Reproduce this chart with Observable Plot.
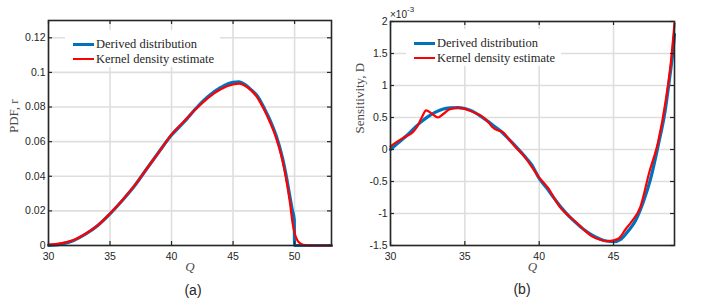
<!DOCTYPE html>
<html>
<head>
<meta charset="utf-8">
<script src="https://cdn.jsdelivr.net/npm/d3@7"></script>
<script src="https://cdn.jsdelivr.net/npm/@observablehq/plot@0.6"></script>
<style>
  body { margin: 0; background: #fff; }
  #wrap { position: relative; width: 708px; height: 302px; overflow: hidden; background: #fff; }
  .panel { position: absolute; top: 0; }
  .legend { position: absolute; background: #fff; font-family: "Liberation Serif", "Times New Roman", serif; font-size: 12.5px; color: #262626; }
  .legend .row { position: absolute; left: 0; height: 14px; white-space: nowrap; }
  .legend .sw { position: absolute; left: 8px; width: 21px; }
  .legend .lab { position: absolute; left: 31px; top: -8px; line-height: 16px; }
  .cap { position: absolute; font-family: "Liberation Sans", Arial, sans-serif; font-size: 14px; color: #262626; transform: translate(-50%, -50%); }
  .expo { position: absolute; font-family: "Liberation Sans", Arial, sans-serif; font-size: 10px; color: #262626; }
</style>
</head>
<body>
<div id="wrap"></div>
<script>
// ---------- data: panel (a) PDF ----------
const pdfXTicks = [30, 35, 40, 45, 50];
const pdfYTicks = [0, 0.02, 0.04, 0.06, 0.08, 0.1, 0.12];
const pdfYTickLabels = ["0", "0.02", "0.04", "0.06", "0.08", "0.1", "0.12"];

const pdfDerivedQ = [30, 31, 32, 33, 34, 35, 36, 37, 38, 39, 40, 41, 42, 43, 44, 45, 45.5, 46, 46.5, 47, 47.5, 48, 48.5, 49, 49.3, 49.6, 49.8, 49.97, 50, 53];
const pdfDerivedV = [0, 0.0008, 0.0028, 0.0065, 0.0116, 0.0183, 0.026, 0.0345, 0.0445, 0.0543, 0.0638, 0.0712, 0.0793, 0.0862, 0.0913, 0.0943, 0.0945, 0.0928, 0.0898, 0.0862, 0.0797, 0.0725, 0.0635, 0.051, 0.041, 0.029, 0.021, 0.015, 0, 0];

const pdfKdeQ = [30, 31, 32, 33, 34, 35, 36, 37, 38, 39, 40, 41, 42, 43, 44, 45, 45.5, 46, 46.5, 47, 47.5, 48, 48.5, 49, 49.3, 49.6, 49.85, 50, 50.2, 50.5, 50.9, 51.5, 53];
const pdfKdeV = [0.0005, 0.0012, 0.003, 0.0068, 0.0116, 0.0185, 0.0262, 0.0347, 0.0445, 0.0542, 0.0642, 0.0716, 0.079, 0.0855, 0.0903, 0.093, 0.0935, 0.0922, 0.0895, 0.0852, 0.0788, 0.0712, 0.0622, 0.0495, 0.039, 0.026, 0.0125, 0.0072, 0.0033, 0.0011, 0.0002, 0, 0];

// ---------- data: panel (b) Sensitivity (x 1e-3) ----------
const senXTicks = [30, 35, 40, 45];
const senYTicks = [-1.5, -1, -0.5, 0, 0.5, 1, 1.5, 2];
const senYTickLabels = ["-1.5", "-1", "-0.5", "0", "0.5", "1", "1.5", "2"];

const senDerivedQ = [30, 30.5, 31, 31.5, 32, 32.5, 33, 33.5, 34, 34.5, 35, 35.5, 36, 36.5, 37, 37.5, 38, 38.5, 39, 39.5, 40, 40.5, 41, 41.5, 42, 42.5, 43, 43.5, 44, 44.5, 45, 45.5, 46, 46.5, 47, 47.5, 48, 48.5, 48.75, 49, 49.1];
const senDerivedV = [0, 0.1, 0.2, 0.31, 0.42, 0.51, 0.58, 0.63, 0.65, 0.655, 0.64, 0.6, 0.53, 0.45, 0.36, 0.27, 0.15, 0.03, -0.1, -0.24, -0.45, -0.6, -0.76, -0.91, -1.04, -1.15, -1.25, -1.33, -1.39, -1.43, -1.44, -1.4, -1.27, -1.1, -0.82, -0.45, 0.06, 0.65, 1.08, 1.55, 1.8];

const senKdeQ = [30, 30.5, 31, 31.5, 31.8, 32.1, 32.4, 32.75, 33.2, 33.55, 34, 34.6, 35.3, 35.8, 36.2, 36.6, 36.9, 37.2, 37.5, 37.9, 38.4, 38.9, 39.5, 40, 40.3, 40.6, 41, 41.4, 42, 42.5, 43, 43.5, 44.1, 44.6, 45, 45.4, 45.8, 46.2, 46.8, 47.4, 48, 48.5, 48.85, 49.1];
const senKdeV = [0.05, 0.13, 0.2, 0.27, 0.36, 0.5, 0.61, 0.565, 0.5, 0.555, 0.63, 0.65, 0.61, 0.56, 0.51, 0.42, 0.34, 0.3, 0.28, 0.18, 0.04, -0.08, -0.27, -0.44, -0.52, -0.6, -0.76, -0.9, -1.04, -1.14, -1.25, -1.35, -1.41, -1.43, -1.42, -1.38, -1.25, -1.13, -0.9, -0.36, 0.12, 0.75, 1.35, 1.97];

const seriesNames = ["Derived distribution", "Kernel density estimate"];
const seriesColors = ["#0072BD", "#FF0000"];

// ---------- helpers ----------
const toRows = (qs, vs) => qs.map((q, i) => ({q, v: vs[i]}));
const SANS = '"Liberation Sans", Arial, sans-serif';
const SERIF = '"Liberation Serif", "Times New Roman", serif';
const INK = "#262626";

function panel({width, height, ml, mr, mt, mb, xDomain, yDomain, xTicks, yTicks, yLabels, derived, kde, yLabel, yLabelDx}) {
  const fh = height - mt - mb;
  const fw = width - ml - mr;
  const tick = 4;
  return Plot.plot({
    width, height,
    marginLeft: ml, marginRight: mr, marginTop: mt, marginBottom: mb,
    style: {color: INK, background: "transparent", overflow: "visible"},
    x: {domain: xDomain},
    y: {domain: yDomain},
    marks: [
      Plot.gridX(xTicks, {stroke: "#dedede", strokeOpacity: 1, strokeWidth: 1.6}),
      Plot.gridY(yTicks, {stroke: "#dedede", strokeOpacity: 1, strokeWidth: 1.6}),
      Plot.line(derived, {x: "q", y: "v", stroke: seriesColors[0], strokeWidth: 3.2, curve: "monotone-x"}),
      Plot.line(kde, {x: "q", y: "v", stroke: seriesColors[1], strokeWidth: 2.2, curve: "monotone-x"}),
      // inward ticks on all four sides
      Plot.tickX(xTicks, {x: d => d, insetTop: fh - tick, stroke: INK, strokeWidth: 1.2}),
      Plot.tickX(xTicks, {x: d => d, insetBottom: fh - tick, stroke: INK, strokeWidth: 1.2}),
      Plot.tickY(yTicks, {y: d => d, insetRight: fw - tick, stroke: INK, strokeWidth: 1.2}),
      Plot.tickY(yTicks, {y: d => d, insetLeft: fw - tick, stroke: INK, strokeWidth: 1.2}),
      Plot.frame({stroke: INK, strokeWidth: 1.6}),
      Plot.axisX({ticks: xTicks, tickSize: 0, tickPadding: 7, fontSize: 10.5, fontFamily: SANS, label: null, tickFormat: d => String(d)}),
      Plot.axisY({ticks: yTicks, tickSize: 0, tickPadding: 3, fontSize: 10.5, fontFamily: SANS, label: null,
        tickFormat: d => yLabels[yTicks.indexOf(d)]}),
      Plot.text(["Q"], {text: d => d, frameAnchor: "bottom", dy: 21, fontFamily: SERIF, fontStyle: "italic", fontSize: 13, fill: "#4a4a4a", lineAnchor: "middle"}),
      Plot.text([yLabel], {text: d => d, frameAnchor: "left", rotate: -90, dx: yLabelDx, fontFamily: SERIF, fontSize: 13, fill: "#4a4a4a", lineAnchor: "middle"})
    ]
  });
}

const wrap = document.getElementById("wrap");

const a = panel({
  width: 354, height: 270, ml: 48, mr: 23, mt: 20, mb: 25,
  xDomain: [30, 53], yDomain: [0, 0.13],
  xTicks: pdfXTicks, yTicks: pdfYTicks, yLabels: pdfYTickLabels,
  derived: toRows(pdfDerivedQ, pdfDerivedV), kde: toRows(pdfKdeQ, pdfKdeV),
  yLabel: "PDF, r", yLabelDx: -35
});
a.classList.add("panel"); a.style.left = "0px";
wrap.appendChild(a);

const b = panel({
  width: 354, height: 270, ml: 36, mr: 34, mt: 21, mb: 25,
  xDomain: [30, 49.1], yDomain: [-1.5, 2],
  xTicks: senXTicks, yTicks: senYTicks, yLabels: senYTickLabels,
  derived: toRows(senDerivedQ, senDerivedV), kde: toRows(senKdeQ, senKdeV),
  yLabel: "Sensitivity, D", yLabelDx: -31
});
b.classList.add("panel"); b.style.left = "354px";
wrap.appendChild(b);

// legends (white boxed, no border)
function legend(left, top, w, h) {
  const lg = document.createElement("div");
  lg.className = "legend";
  lg.style.left = left + "px"; lg.style.top = top + "px";
  lg.style.width = w + "px"; lg.style.height = h + "px";
  seriesNames.forEach((name, i) => {
    const row = document.createElement("div");
    row.className = "row";
    row.style.top = (14 + i * 15) + "px";
    const sw = document.createElement("div");
    sw.className = "sw";
    sw.style.height = (i === 0 ? 3 : 2.5) + "px";
    sw.style.top = (i === 0 ? -1.5 : -1.25) + "px";
    sw.style.background = seriesColors[i];
    const lab = document.createElement("span");
    lab.className = "lab";
    lab.textContent = name;
    row.appendChild(sw); row.appendChild(lab);
    lg.appendChild(row);
  });
  wrap.appendChild(lg);
}
legend(65, 30, 155, 37);
legend(406, 29, 155, 37);

// exponent marker
const ex = document.createElement("div");
ex.className = "expo";
ex.style.left = "390px"; ex.style.top = "7px";
ex.innerHTML = "&times;10<sup style='font-size:8px;position:relative;top:-2px'>-3</sup>";
wrap.appendChild(ex);

// captions
[["(a)", 193, 290], ["(b)", 522, 289]].forEach(([t, x, y]) => {
  const c = document.createElement("div");
  c.className = "cap";
  c.style.left = x + "px"; c.style.top = y + "px";
  c.textContent = t;
  wrap.appendChild(c);
});
</script>
</body>
</html>
